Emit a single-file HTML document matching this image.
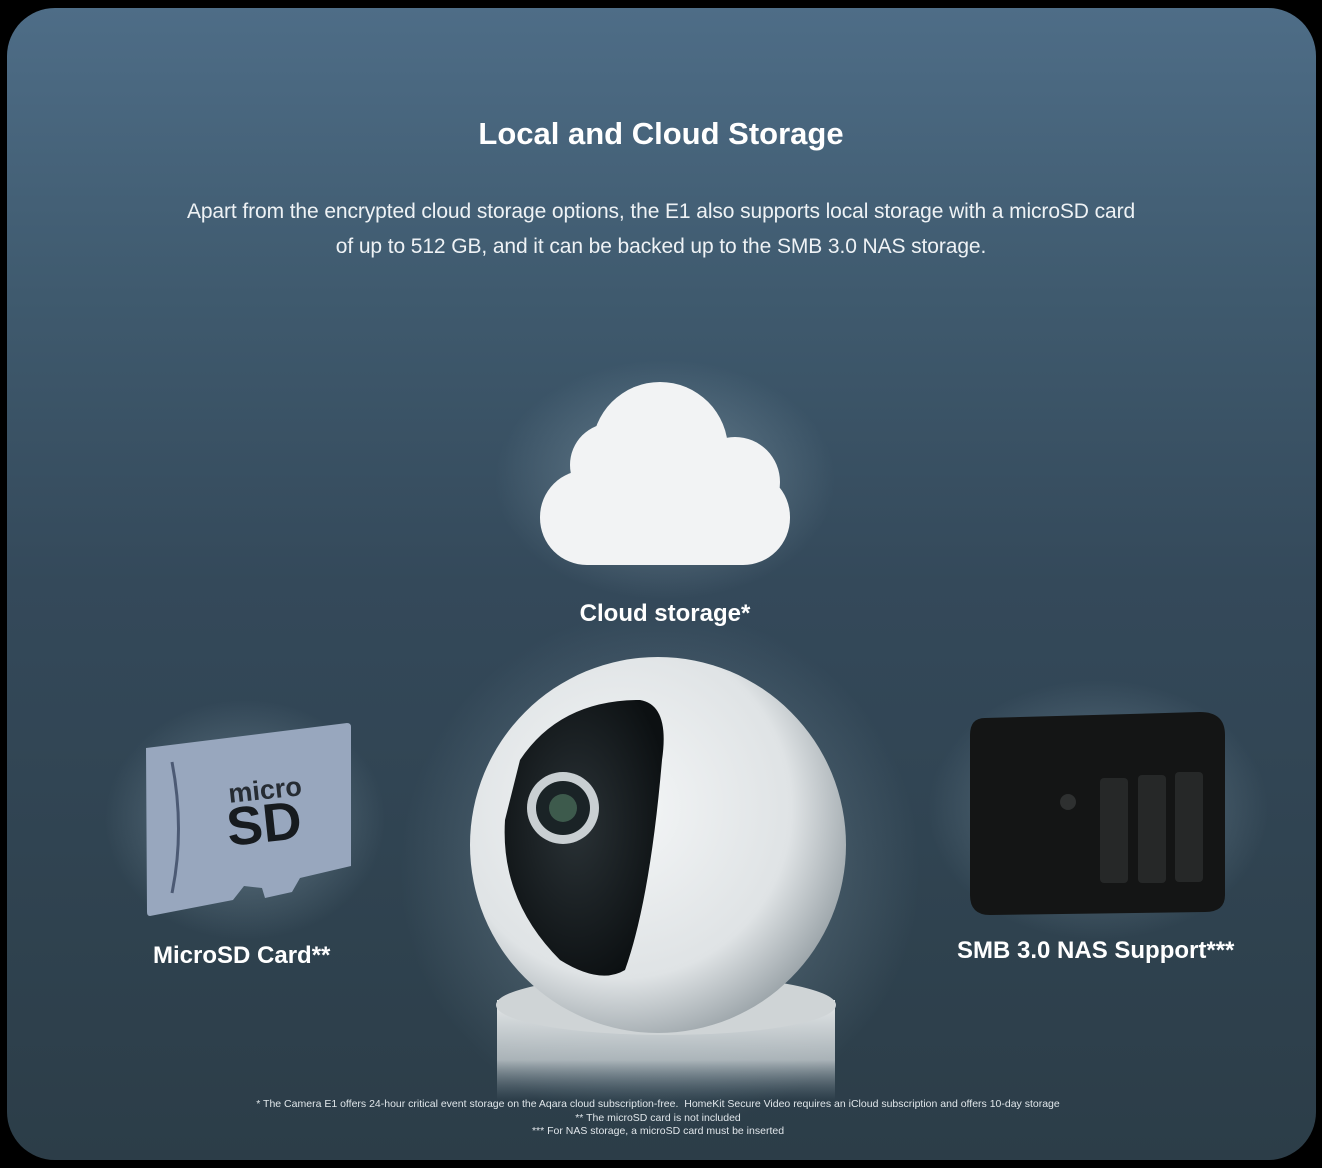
<!DOCTYPE html>
<html><head><meta charset="utf-8"><style>
html,body{margin:0;padding:0;background:#000;width:1322px;height:1168px;overflow:hidden;font-family:"Liberation Sans",sans-serif}
.card{position:absolute;left:7px;top:8px;width:1309px;height:1152px;border-radius:48px;background:linear-gradient(180deg,#4e6d87 0%,#3f5a6e 25%,#34495a 50%,#2f424f 80%,#2c3d48 100%);overflow:hidden}
.t{position:absolute;left:0;width:1322px;text-align:center;color:#fff}
</style></head><body>
<div class="card"></div>
<div class="t" style="top:116px;font-size:31px;font-weight:bold">Local and Cloud Storage</div>
<div class="t" style="top:194px;font-size:21px;line-height:35px;color:#eef2f5;letter-spacing:-0.1px">Apart from the encrypted cloud storage options, the E1 also supports local storage with a microSD card<br>of up to 512 GB, and it can be backed up to the SMB 3.0 NAS storage.</div>
<svg width="1322" height="1168" style="position:absolute;left:0;top:0">
<defs>
<radialGradient id="glow" cx="50%" cy="50%" r="50%"><stop offset="0" stop-color="#8fa7b5" stop-opacity=".55"/><stop offset="1" stop-color="#8fa7b5" stop-opacity="0"/></radialGradient>
<radialGradient id="ball" cx="40%" cy="40%" r="65%"><stop offset="0" stop-color="#f4f6f7"/><stop offset=".7" stop-color="#dfe3e5"/><stop offset="1" stop-color="#9aa3a8"/></radialGradient>
<radialGradient id="face" cx="45%" cy="45%" r="60%"><stop offset="0" stop-color="#2a3236"/><stop offset="1" stop-color="#0c1012"/></radialGradient>
<linearGradient id="base" x1="0" y1="0" x2="0" y2="1"><stop offset="0" stop-color="#e6e9ea"/><stop offset=".6" stop-color="#c8cfd2" stop-opacity=".8"/><stop offset="1" stop-color="#7d8e98" stop-opacity="0"/></linearGradient>
</defs>
<ellipse cx="665" cy="480" rx="170" ry="120" fill="url(#glow)"/>
<g fill="#f2f3f4">
<circle cx="660" cy="450" r="68"/><circle cx="612" cy="465" r="42"/><circle cx="735" cy="482" r="45"/>
<rect x="540" y="470" width="250" height="95" rx="47"/>
</g>
<ellipse cx="660" cy="870" rx="260" ry="260" fill="url(#glow)"/>
<rect x="497" y="1000" width="338" height="100" fill="url(#base)"/>
<ellipse cx="666" cy="1005" rx="170" ry="30" fill="#cfd4d6"/>
<circle cx="658" cy="845" r="188" fill="url(#ball)"/>
<path d="M520 760 Q560 700 640 700 Q670 705 662 760 Q650 900 625 970 Q600 985 560 960 Q500 900 505 820 Z" fill="url(#face)"/>
<circle cx="563" cy="808" r="36" fill="#c9cfd2"/><circle cx="563" cy="808" r="27" fill="#1a2326"/><circle cx="563" cy="808" r="14" fill="#3d5a4c"/>
<ellipse cx="245" cy="820" rx="140" ry="120" fill="url(#glow)"/>
<path d="M146 748 L347 723 Q351 723 351 727 L351 866 L300 878 L292 892 L265 898 L262 888 L244 886 L233 900 L150 916 Q147 916 147 912 Z" fill="#98a7be"/>
<path d="M172 762 Q185 830 172 893" stroke="#4c5a74" stroke-width="3" fill="none"/>
<text x="266" y="799" font-size="27" font-weight="bold" fill="#262c33" text-anchor="middle" transform="rotate(-6 266 799)">micro</text>
<text x="266" y="842" font-size="54" font-weight="bold" fill="#171b1f" text-anchor="middle" transform="rotate(-6 266 842)">SD</text>
<ellipse cx="1098" cy="810" rx="170" ry="130" fill="url(#glow)"/>
<path d="M985 718 L1200 712 Q1225 712 1225 735 L1225 895 Q1225 912 1205 912 L990 915 Q970 915 970 895 L970 735 Q970 718 985 718Z" fill="#141515"/>
<g fill="#262828"><rect x="1100" y="778" width="28" height="105" rx="4"/><rect x="1138" y="775" width="28" height="108" rx="4"/><rect x="1175" y="772" width="28" height="110" rx="4"/></g>
<circle cx="1068" cy="802" r="8" fill="#2e3030"/>
</svg>
<div class="t" style="top:600px;font-size:24px;font-weight:bold;left:4px">Cloud storage*</div>
<div style="position:absolute;left:153px;top:942px;font-size:24px;font-weight:bold;color:#fff">MicroSD Card**</div>
<div style="position:absolute;left:957px;top:937px;font-size:24px;font-weight:bold;color:#fff">SMB 3.0 NAS Support***</div>
<div class="t" style="top:1098px;font-size:10.5px;line-height:13.5px;color:#e0e6ea;left:-3px">* The Camera E1 offers 24-hour critical event storage on the Aqara cloud subscription-free.&nbsp; HomeKit Secure Video requires an iCloud subscription and offers 10-day storage<br>** The microSD card is not included<br>*** For NAS storage, a microSD card must be inserted</div>
</body></html>
